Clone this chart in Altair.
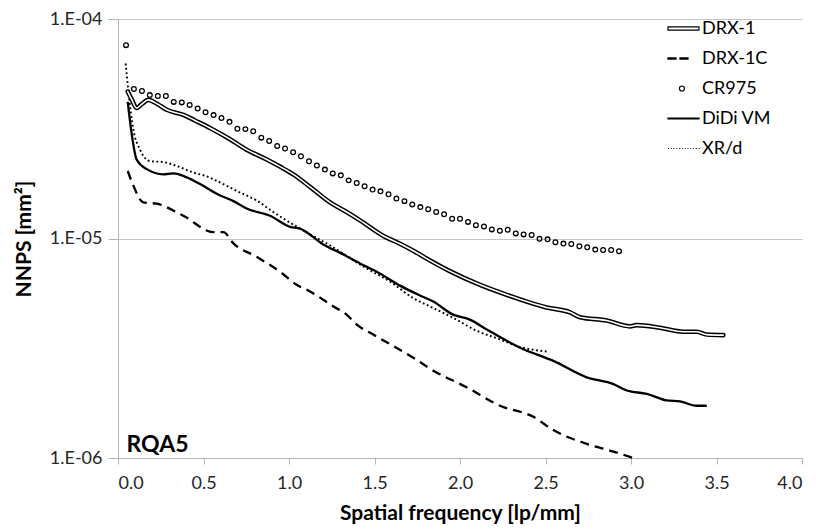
import altair as alt
import pandas as pd

# ---------------- data ----------------
series_names = ["DRX-1", "DRX-1C", "CR975", "DiDi VM", "XR/d"]

drx1_x = [0.057, 0.08, 0.109, 0.14, 0.177, 0.23, 0.285, 0.382, 0.45, 0.538, 0.65, 0.752,
          0.87, 0.95, 1.025, 1.123, 1.24, 1.337, 1.415, 1.55, 1.649, 1.727, 1.805, 1.94,
          2.117, 2.273, 2.39, 2.507, 2.643, 2.702, 2.858, 2.994, 3.033, 3.17, 3.306, 3.384,
          3.443, 3.54]
drx1_y = [4.67e-5, 4.3e-5, 3.93e-5, 4.1e-5, 4.28e-5, 4.1e-5, 3.86e-5, 3.66e-5, 3.45e-5,
          3.19e-5, 2.85e-5, 2.54e-5, 2.29e-5, 2.12e-5, 1.96e-5, 1.72e-5, 1.46e-5, 1.32e-5,
          1.21e-5, 1.03e-5, 9.47e-6, 8.8e-6, 8.1e-6, 7.1e-6, 6.15e-6, 5.54e-6, 5.16e-6,
          4.85e-6, 4.61e-6, 4.38e-6, 4.23e-6, 3.98e-6, 4.03e-6, 3.92e-6, 3.76e-6, 3.76e-6,
          3.65e-6, 3.63e-6]

drx1c_x = [0.057, 0.09, 0.148, 0.226, 0.382, 0.557, 0.616, 0.675, 0.811, 0.947, 1.045,
           1.123, 1.26, 1.337, 1.395, 1.493, 1.591, 1.727, 1.844, 2.039, 2.234, 2.429,
           2.546, 2.741, 2.897, 3.014]
drx1c_y = [2.03e-5, 1.74e-5, 1.46e-5, 1.44e-5, 1.27e-5, 1.07e-5, 1.07e-5, 9.5e-6, 8.25e-6,
           7.06e-6, 6.15e-6, 5.74e-6, 4.9e-6, 4.5e-6, 4.06e-6, 3.65e-6, 3.3e-6, 2.86e-6,
           2.5e-6, 2.1e-6, 1.73e-6, 1.54e-6, 1.34e-6, 1.16e-6, 1.07e-6, 1.0e-6]

cr975_x = [0.047, 0.093, 0.140, 0.186, 0.233, 0.280, 0.326, 0.373, 0.419, 0.466, 0.512,
           0.559, 0.605, 0.652, 0.698, 0.745, 0.791, 0.838, 0.884, 0.931, 0.977, 1.024,
           1.070, 1.117, 1.163, 1.210, 1.256, 1.303, 1.349, 1.396, 1.442, 1.489, 1.535,
           1.582, 1.628, 1.675, 1.721, 1.768, 1.814, 1.861, 1.907, 1.954, 2.000, 2.047,
           2.093, 2.140, 2.186, 2.233, 2.279, 2.326, 2.372, 2.419, 2.465, 2.512, 2.558,
           2.605, 2.651, 2.698, 2.744, 2.791, 2.837, 2.884, 2.930]
cr975_y = [7.6e-5, 4.8e-5, 4.7e-5, 4.5e-5, 4.46e-5, 4.46e-5, 4.19e-5, 4.17e-5, 4.06e-5,
           3.91e-5, 3.76e-5, 3.65e-5, 3.54e-5, 3.40e-5, 3.16e-5, 3.15e-5, 3.08e-5, 2.88e-5,
           2.78e-5, 2.64e-5, 2.57e-5, 2.47e-5, 2.37e-5, 2.25e-5, 2.15e-5, 2.06e-5, 1.98e-5,
           1.94e-5, 1.84e-5, 1.79e-5, 1.73e-5, 1.67e-5, 1.64e-5, 1.59e-5, 1.52e-5, 1.48e-5,
           1.43e-5, 1.39e-5, 1.36e-5, 1.32e-5, 1.29e-5, 1.23e-5, 1.23e-5, 1.19e-5, 1.15e-5,
           1.135e-5, 1.10e-5, 1.084e-5, 1.096e-5, 1.055e-5, 1.044e-5, 1.037e-5, 9.98e-6,
           9.91e-6, 9.61e-6, 9.48e-6, 9.44e-6, 9.22e-6, 9.12e-6, 8.9e-6, 8.87e-6, 8.87e-6,
           8.75e-6]

didi_x = [0.057, 0.08, 0.109, 0.168, 0.265, 0.323, 0.402, 0.48, 0.577, 0.675, 0.752, 0.889,
          1.006, 1.064, 1.2, 1.3, 1.415, 1.513, 1.649, 1.766, 1.844, 1.96, 2.058, 2.156,
          2.351, 2.546, 2.741, 2.897, 2.975, 3.092, 3.209, 3.287, 3.384, 3.443]
didi_y = [4.19e-5, 3.0e-5, 2.29e-5, 2.07e-5, 1.96e-5, 1.98e-5, 1.9e-5, 1.77e-5, 1.6e-5,
          1.48e-5, 1.37e-5, 1.27e-5, 1.13e-5, 1.11e-5, 9.4e-6, 8.6e-6, 7.7e-6, 7.06e-6,
          6.1e-6, 5.5e-6, 5.16e-6, 4.5e-6, 4.27e-6, 3.85e-6, 3.18e-6, 2.77e-6, 2.33e-6,
          2.17e-6, 2.03e-6, 1.96e-6, 1.83e-6, 1.81e-6, 1.73e-6, 1.73e-6]

xrd_x = [0.045, 0.06, 0.09, 0.129, 0.187, 0.265, 0.343, 0.44, 0.518, 0.596, 0.713, 0.811,
         0.908, 1.064, 1.24, 1.454, 1.591, 1.727, 1.825, 1.96, 2.097, 2.234, 2.331, 2.517]
xrd_y = [6.27e-5, 4.75e-5, 3.13e-5, 2.54e-5, 2.25e-5, 2.23e-5, 2.14e-5, 2.0e-5, 1.92e-5,
         1.8e-5, 1.62e-5, 1.49e-5, 1.32e-5, 1.11e-5, 9.3e-6, 7.3e-6, 6.36e-6, 5.35e-6,
         4.9e-6, 4.35e-6, 3.8e-6, 3.47e-6, 3.24e-6, 3.05e-6]

x_ticks = [0.0, 0.5, 1.0, 1.5, 2.0, 2.5, 3.0, 3.5, 4.0]
y_ticks = [1e-6, 1e-5, 1e-4]
y_tick_labels = ["1.E-06", "1.E-05", "1.E-04"]

annotation = ["RQA5"]
annotation_pos = ([0.05], [1.06e-6])


def frame(name, xs, ys):
    return pd.DataFrame({"series": name, "freq": xs, "nnps": ys})


df_drx1 = frame("DRX-1", drx1_x, drx1_y)
df_drx1c = frame("DRX-1C", drx1c_x, drx1c_y)
df_cr = frame("CR975", cr975_x, cr975_y)
df_didi = frame("DiDi VM", didi_x, didi_y)
df_xrd = frame("XR/d", xrd_x, xrd_y)

# ---------------- styling ----------------
FONT = "Lato"
GRAY = "#b4b4b4"
TXT = "#262626"

label_expr = " : ".join(
    f"datum.value < {v * 3:g} ? '{lab}'" for v, lab in zip(y_ticks[:-1], y_tick_labels[:-1])
) + f" : '{y_tick_labels[-1]}'"

x_enc = alt.X(
    "freq:Q",
    scale=alt.Scale(domain=[0, 4], nice=False, zero=False),
    axis=alt.Axis(values=x_ticks, format=".1f", title="Spatial frequency [lp/mm]",
                  grid=False, tickSize=6, labelPadding=10, titlePadding=10,
                  labelFontSize=18, titleFontSize=21),
)
y_enc = alt.Y(
    "nnps:Q",
    scale=alt.Scale(type="log", domain=[1e-6, 1e-4], nice=False),
    axis=alt.Axis(values=y_ticks, labelExpr=label_expr, title="NNPS [mm²]",
                  grid=True, tickSize=10, labelPadding=6, titlePadding=15,
                  labelFontSize=18, titleFontSize=21),
)

drx1_outer = alt.Chart(df_drx1).mark_line(color="black", strokeWidth=4.6, strokeCap="round",
                                          interpolate="monotone").encode(x=x_enc, y=y_enc)
drx1_inner = alt.Chart(df_drx1).mark_line(color="white", strokeWidth=1.6, strokeCap="round",
                                          interpolate="monotone").encode(x=x_enc, y=y_enc)
drx1c_line = alt.Chart(df_drx1c).mark_line(color="black", strokeWidth=2.3, strokeDash=[9, 6],
                                           interpolate="monotone").encode(x=x_enc, y=y_enc)
didi_line = alt.Chart(df_didi).mark_line(color="black", strokeWidth=2.3,
                                         interpolate="monotone").encode(x=x_enc, y=y_enc)
xrd_line = alt.Chart(df_xrd).mark_line(color="black", strokeWidth=1.9, strokeDash=[1.8, 2.6],
                                       interpolate="monotone").encode(x=x_enc, y=y_enc)
cr_points = alt.Chart(df_cr).mark_point(shape="circle", filled=False, color="black", size=22,
                                        strokeWidth=1.3, opacity=1).encode(x=x_enc, y=y_enc)

text_df = pd.DataFrame({"freq": annotation_pos[0], "nnps": annotation_pos[1], "label": annotation})
rqa_text = alt.Chart(text_df).mark_text(align="left", baseline="alphabetic", font=FONT,
                                        fontSize=23, fontWeight="bold", color="black").encode(
    x=x_enc, y=y_enc, text="label:N")

# legend symbols as custom SVG paths (unit = half the symbol width)
dots = "".join(f"M{-1 + i * 0.18:.2f},0L{-1 + i * 0.18 + 0.06:.2f},0" for i in range(12))
legend_paths = [
    "M-1,-0.1L1,-0.1L1,0.1L-1,0.1Z",
    "M-1,-0.035L-0.48,-0.035L-0.48,0.035L-1,0.035ZM-0.23,-0.035L0.29,-0.035L0.29,0.035L-0.23,0.035Z",
    "M0.06,0A0.16,0.16 0 1,1 -0.26,0A0.16,0.16 0 1,1 0.06,0Z",
    "M-1,-0.03L1,-0.03L1,0.03L-1,0.03Z",
    dots,
]
legend_layer = alt.Chart(pd.DataFrame({"series": series_names})).mark_point(
    filled=False, opacity=0).encode(
    shape=alt.Shape("series:N", scale=alt.Scale(domain=series_names, range=legend_paths),
                    legend=alt.Legend(title=None, orient="none", legendX=549, legendY=-7,
                                      symbolSize=961, symbolStrokeWidth=1.2,
                                      symbolStrokeColor="black", symbolFillColor="white",
                                      symbolOpacity=1, labelFont=FONT, labelFontSize=18,
                                      labelColor="black", labelOffset=2, rowPadding=4))
)

chart = alt.layer(
    legend_layer, drx1c_line, xrd_line, didi_line, drx1_outer, drx1_inner, cr_points, rqa_text
).properties(
    width=684, height=439,
    autosize=alt.AutoSizeParams(type="none"),
    padding={"left": 110, "top": 11, "right": 6, "bottom": 66},
).configure_view(strokeWidth=0).configure_axis(
    labelFont=FONT, titleFont=FONT, labelColor=TXT, titleColor="black",
    titleFontWeight="bold", domainColor=GRAY, tickColor=GRAY, gridColor="#c4c4c4",
    gridWidth=1, domainWidth=1, tickWidth=1,
)

chart.save("out.html", embed_options={"renderer": "svg", "actions": False})
